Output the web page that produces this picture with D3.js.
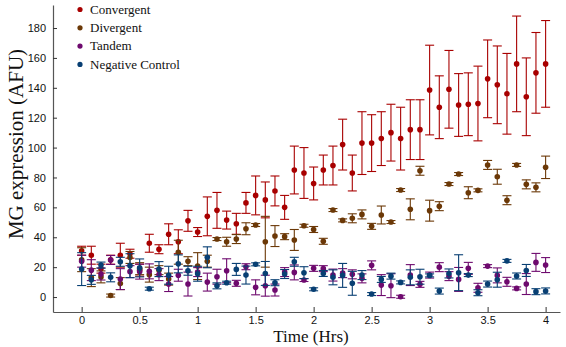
<!DOCTYPE html>
<html>
<head>
<meta charset="utf-8">
<script src="https://cdn.jsdelivr.net/npm/d3@7"></script>
<style>
  body { margin: 0; background: #fff; }
  svg { display: block; }
</style>
</head>
<body>
<div id="container"></div>
<script>
// time points, every 5 minutes from 0 to 4 hrs
const times = d3.range(49).map(i => i * 5 / 60);

const seriesNames = ["Convergent", "Divergent", "Tandem", "Negative Control"];
const seriesColors = ["#a80000", "#6b3807", "#6e0a6e", "#083f73"];

const convergent = [31, 28, 19, 25, 28, 29, 18, 36, 32, 42, 37, 51, 43.5, 54, 58, 51.5, 49, 63, 68, 65,
  71, 60, 85, 83, 76, 85, 88, 102, 83, 103, 103, 106, 110, 106, 112, 112, 138.5, 127, 139, 128.5,
  129, 129.5, 146, 142, 136, 156, 134, 150, 156];
const convergentErr = [3, 6, 3, 3, 8, 3, 4, 6, 3, 7, 8, 7, 3, 13, 12, 6, 7, 7, 13, 12,
  10, 8, 16, 17, 11, 10, 13, 17, 12, 21, 19, 18, 19, 21, 20, 20, 30, 21, 26, 21,
  21, 25, 26, 26, 27, 32, 26, 27, 29];

const divergent = [25, 13, 13.5, 1, 9, 26.5, 19, 15, 18, 12, 30, 24, 20.7, 24, 38.8, 37, 38.8, 45.7, 48.2, 37,
  40.8, 40.4, 38.2, 47.7, 45.2, 37.3, 58.2, 51.3, 52.7, 55.3, 47.3, 54.9, 50.2, 71.6, 58.7, 84.5, 57.8, 60.8, 75.6, 82.3,
  69.8, 71.4, 88.4, 80.5, 64.8, 88.4, 75.4, 73.4, 86.8];
const divergentErr = [8, 6, 4, 1, 4, 4, 4, 5, 3, 4, 8, 3, 9, 4, 1, 3, 3, 4, 1, 17,
  7, 2, 7, 1, 2, 2, 1, 1, 3, 3, 2, 6, 1, 1, 7, 3, 7, 3, 1, 1,
  4, 1, 3, 5, 3, 1, 3, 3, 7.5];

const tandem = [24, 18, 15.4, 24.8, 12, 17, 17, 17.2, 15, 8.7, 14.6, 8.7, 16.7, 10, 13.6, 17.6, 9.2, 20.3, 6.5, 7.6,
  4.7, 16.7, 16.5, 11.4, 19.2, 19, 14.7, 16, 15.2, 12.5, 21.2, 8, 7.6, 0.2, 14.7, 8.5, 14.7, 20, 14, 11.8,
  19.2, 6.2, 20.7, 14.5, 10.2, 5.8, 8.7, 23.2, 21.4];
const tandemErr = [4, 7, 4, 3, 7, 4, 5, 5, 4, 5, 4, 8, 3, 6, 5, 8, 2, 2, 5, 7,
  4, 3, 5, 1, 2, 2, 4, 3, 3, 3, 3, 7, 8, 1, 7, 2, 2, 3, 3, 8,
  4, 3, 1, 5, 3, 1, 7, 6, 5];

const negative = [18.7, 11.5, 21.4, 13.2, 23.6, 21, 19.5, 5.6, 18.7, 14.6, 22.2, 17.6, 15.6, 26.6, 7.5, 9.6, 18.5, 14.7, 21.9, 15.8,
  9.6, 15.4, 23.6, 16.3, 5.2, 15.8, 13.2, 14.5, 9.2, 14.7, 2, 11.8, 14, 9.8, 13.2, 13.6, 14.5, 4, 15.8, 16.3,
  14.7, 2.9, 8.7, 11.6, 24.2, 14.1, 17.8, 3.6, 4.1];
const negativeErr = [11, 3, 2, 3, 3, 8, 6, 1, 5, 6, 6, 3, 5, 7, 2, 1, 4, 6, 1, 8,
  2, 3, 3, 4, 1, 2, 5, 8, 8, 3, 1, 2, 2, 1, 5, 5, 1, 2, 3, 12,
  1, 2, 2, 5, 1, 2, 4, 2, 2];

const xTicks = [0, 0.5, 1, 1.5, 2, 2.5, 3, 3.5, 4];
const yTicks = [0, 20, 40, 60, 80, 100, 120, 140, 160, 180];

const width = 566, height = 347;

const values = [convergent, divergent, tandem, negative];
const errors = [convergentErr, divergentErr, tandemErr, negativeErr];

const svg = d3.select("#container").append("svg")
  .attr("width", width)
  .attr("height", height);

// scales
const x = d3.scaleLinear().domain([-0.247, 4.124]).range([53, 560]);
const y = d3.scaleLinear().domain([-10, 195.4]).range([312, 5]);

// axes, ticks pointing inward
const xAxis = d3.axisBottom(x).tickValues(xTicks).tickSizeInner(-5).tickSizeOuter(0).tickPadding(4)
  .tickFormat(d3.format("~g"));
const yAxis = d3.axisLeft(y).tickValues(yTicks).tickSizeInner(-4).tickSizeOuter(0).tickPadding(7);

const gx = svg.append("g").attr("transform", "translate(0,312)").call(xAxis);
const gy = svg.append("g").attr("transform", "translate(53,0)").call(yAxis);

[gx, gy].forEach(g => {
  g.select(".domain").attr("stroke", "#555").attr("stroke-width", 1.2);
  g.selectAll(".tick line").attr("stroke", "#333");
  g.selectAll(".tick text")
    .attr("fill", "#111")
    .style("font-family", "'Liberation Sans', Arial, sans-serif")
    .style("font-size", "11px");
});

// series with error bars
const capW = 4.5;
values.forEach((vals, s) => {
  const color = seriesColors[s];
  const pts = times.map((t, i) => ({t: t, v: vals[i], e: errors[s][i]}));
  const g = svg.append("g").attr("class", "series");

  const eb = g.selectAll(".err")
    .data(pts)
    .enter().append("g")
    .attr("class", "err")
    .attr("stroke", color)
    .attr("stroke-width", 1.1);

  eb.append("line")
    .attr("x1", d => x(d.t)).attr("x2", d => x(d.t))
    .attr("y1", d => y(d.v - d.e)).attr("y2", d => y(d.v + d.e));
  eb.append("line")
    .attr("x1", d => x(d.t) - capW).attr("x2", d => x(d.t) + capW)
    .attr("y1", d => y(d.v + d.e)).attr("y2", d => y(d.v + d.e));
  eb.append("line")
    .attr("x1", d => x(d.t) - capW).attr("x2", d => x(d.t) + capW)
    .attr("y1", d => y(d.v - d.e)).attr("y2", d => y(d.v - d.e));

  g.selectAll(".dot")
    .data(pts)
    .enter().append("circle")
    .attr("class", "dot")
    .attr("cx", d => x(d.t))
    .attr("cy", d => y(d.v))
    .attr("r", 2.8)
    .attr("fill", color);
});

// legend
const legend = svg.append("g").attr("class", "legend");
const items = legend.selectAll(".item")
  .data(seriesNames)
  .enter().append("g")
  .attr("class", "item")
  .attr("transform", (d, i) => "translate(80," + (9.5 + i * 18.3) + ")");

items.append("circle")
  .attr("r", 2.6)
  .attr("fill", (d, i) => seriesColors[i]);

items.append("text")
  .attr("x", 10)
  .attr("dy", "0.33em")
  .style("font-family", "'Liberation Serif', 'Times New Roman', serif")
  .style("font-size", "13px")
  .attr("fill", "#111")
  .text(d => d);

// axis titles
svg.append("text")
  .attr("x", 311)
  .attr("y", 342)
  .attr("text-anchor", "middle")
  .style("font-family", "'Liberation Serif', 'Times New Roman', serif")
  .style("font-size", "17px")
  .attr("fill", "#111")
  .text("Time (Hrs)");

svg.append("text")
  .attr("transform", "translate(23,144) rotate(-90)")
  .attr("text-anchor", "middle")
  .style("font-family", "'Liberation Serif', 'Times New Roman', serif")
  .style("font-size", "21px")
  .attr("fill", "#111")
  .text("MG expression (AFU)");
</script>
</body>
</html>
